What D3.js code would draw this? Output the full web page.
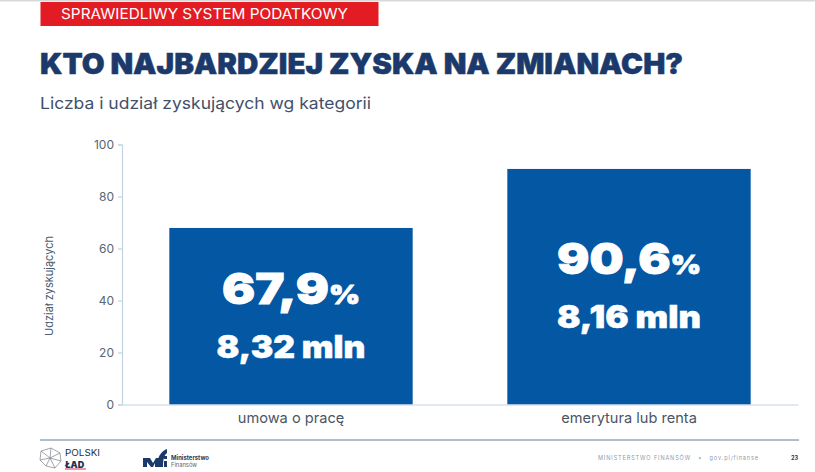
<!DOCTYPE html>
<html lang="pl"><head><meta charset="utf-8">
<script src="https://cdn.jsdelivr.net/npm/d3@7/dist/d3.min.js"></script>
<style>html,body{margin:0;padding:0;background:#fff;overflow:hidden}svg{display:block}text{font-family:Inter,Lato,sans-serif}</style>
</head><body><svg id="c" width="815" height="472"></svg>
<script>
const categories = ["umowa o pracę", "emerytura lub renta"];
const shares = [67.9, 90.6];
const shareLabels = ["67,9", "90,6"];
const countLabels = ["8,32 mln", "8,16 mln"];
const yTicks = [0, 20, 40, 60, 80, 100];
const tagText = "SPRAWIEDLIWY SYSTEM PODATKOWY";
const titleText = "KTO NAJBARDZIEJ ZYSKA NA ZMIANACH?";
const subtitleText = "Liczba i udział zyskujących wg kategorii";
const yLabel = "Udział zyskujących";

const svg = d3.select("#c");
const navy = "#1b3a6b", blue = "#0357a3", axisCol = "#c3d2df";
const heavy = (sel, w) => sel.attr("font-weight",900).attr("stroke",sel.attr("fill")).attr("stroke-width",w).attr("stroke-linejoin","round");

svg.append("rect").attr("x",0).attr("y",0).attr("width",815).attr("height",1.5).attr("fill","#d9d9d9");
svg.append("rect").attr("x",40.5).attr("y",2).attr("width",338).attr("height",24).attr("fill","#e31b23");
svg.append("text").attr("x",61).attr("y",19).attr("fill","#fff").attr("font-size",14).attr("textLength",287).attr("lengthAdjust","spacingAndGlyphs").text(tagText);
heavy(svg.append("text").attr("x",40).attr("y",74).attr("fill",navy).attr("font-size",28.5).attr("textLength",643).attr("lengthAdjust","spacingAndGlyphs").text(titleText),0.5);
svg.append("text").attr("x",40).attr("y",109).attr("fill","#41506a").attr("font-size",16.5).attr("textLength",331).attr("lengthAdjust","spacingAndGlyphs").text(subtitleText);

const x = d3.scaleBand().domain(categories).range([122,798]).paddingInner(0.28).paddingOuter(0.14);
const y = d3.scaleLinear().domain([0,100]).range([404.5,144.5]);

const bars = svg.selectAll("g.bar").data(categories).join("g").attr("class","bar");
bars.append("rect").attr("x",d=>x(d)).attr("width",x.bandwidth())
  .attr("y",(d,i)=>y(shares[i])).attr("height",(d,i)=>y(0)-y(shares[i])).attr("fill",blue);

const yAxis = d3.axisLeft(y).tickValues(yTicks).tickSize(4).tickPadding(4);
const ga = svg.append("g").attr("transform","translate(122,0)").call(yAxis);
ga.selectAll("path,line").attr("stroke",axisCol).attr("stroke-width",1.2);
ga.selectAll("text").attr("fill","#5a6472").attr("font-size",12).style("font-family","Inter");
const xAxis = d3.axisBottom(x).tickSize(0).tickPadding(8);
const gx = svg.append("g").attr("transform","translate(0,404.5)").call(xAxis);
gx.select("path").attr("stroke",axisCol).attr("stroke-width",1.2);
gx.selectAll("text").attr("fill","#4b5563").attr("font-size",14.6).style("font-family","Inter");

svg.append("text").attr("transform","translate(53,286) rotate(-90)").attr("text-anchor","middle")
  .attr("fill","#4a5a70").attr("font-size",11).text(yLabel);

const mid = d => x(d)+x.bandwidth()/2;
const share = bars.append("text").attr("x",mid).attr("y",(d,i)=>[304,274][i]).attr("text-anchor","middle")
  .attr("fill","#fff").attr("font-size",43).attr("font-weight",900).attr("stroke","#fff").attr("stroke-width",0.9)
  .attr("textLength",(d,i)=>[138,144][i]).attr("lengthAdjust","spacingAndGlyphs");
share.append("tspan").text((d,i)=>shareLabels[i]);
share.append("tspan").attr("font-size",26).text("%");
bars.append("text").attr("x",mid).attr("y",(d,i)=>[358,328][i]).attr("text-anchor","middle")
  .attr("fill","#fff").attr("font-weight",900).attr("stroke","#fff").attr("stroke-width",0.5).attr("font-size",31)
  .attr("textLength",(d,i)=>[149,144][i]).attr("lengthAdjust","spacingAndGlyphs").text((d,i)=>countLabels[i]);

// footer
svg.append("line").attr("x1",40).attr("x2",799).attr("y1",440).attr("y2",440).attr("stroke","#5f7f99").attr("stroke-width",1);
const logo = svg.append("g").attr("fill","none").attr("stroke","#7a8088").attr("stroke-width",.7);
logo.append("path").attr("d","M41 451 L51 448 L60 453 L61 461 L55 468 L46 466 L40 460 Z M51 448 L50 458 L41 451 M50 458 L60 453 M50 458 L61 461 M50 458 L55 468 M50 458 L46 466 M50 458 L40 460");
svg.append("text").attr("x",65).attr("y",456).attr("font-size",9).attr("fill","#23314f").attr("textLength",35).attr("lengthAdjust","spacingAndGlyphs").text("POLSKI");
svg.append("text").attr("x",65).attr("y",467.5).attr("font-size",9).attr("font-weight",900).attr("fill","#23314f").text("ŁAD");
svg.append("rect").attr("x",65).attr("y",468.5).attr("width",21).attr("height",1).attr("fill","#d8365a");
const mf = svg.append("g").attr("fill","#1b3a6b");
mf.append("path").attr("d","M143 458 H150 L153 463 L156 458 H159 V467 H155 V463 L153 467 H151 L147 462 V467 H143 Z");
mf.append("path").attr("d","M158 459 C160 454 162 451 167 449 V453 C164 455 163 460 163 467 H158 Z");
mf.append("rect").attr("x",164).attr("y",456).attr("width",3).attr("height",3);
mf.append("rect").attr("x",164).attr("y",461).attr("width",3).attr("height",6);
svg.append("text").attr("x",171).attr("y",460).attr("font-size",6).attr("font-weight",700).attr("fill","#2b3a55").attr("textLength",38).attr("lengthAdjust","spacingAndGlyphs").text("Ministerstwo");
svg.append("text").attr("x",171).attr("y",467).attr("font-size",6).attr("fill","#5a6472").attr("textLength",26).attr("lengthAdjust","spacingAndGlyphs").text("Finansów");
svg.append("text").attr("x",598).attr("y",460).attr("font-size",5.5).attr("fill","#8a9bb0").attr("textLength",160).attr("xml:space","preserve").text("MINISTERSTWO FINANSÓW   •   gov.pl/finanse");
svg.append("text").attr("x",791).attr("y",460).attr("font-size",5.5).attr("font-weight",700).attr("fill","#1b3a6b").text("23");
</script></body></html>
